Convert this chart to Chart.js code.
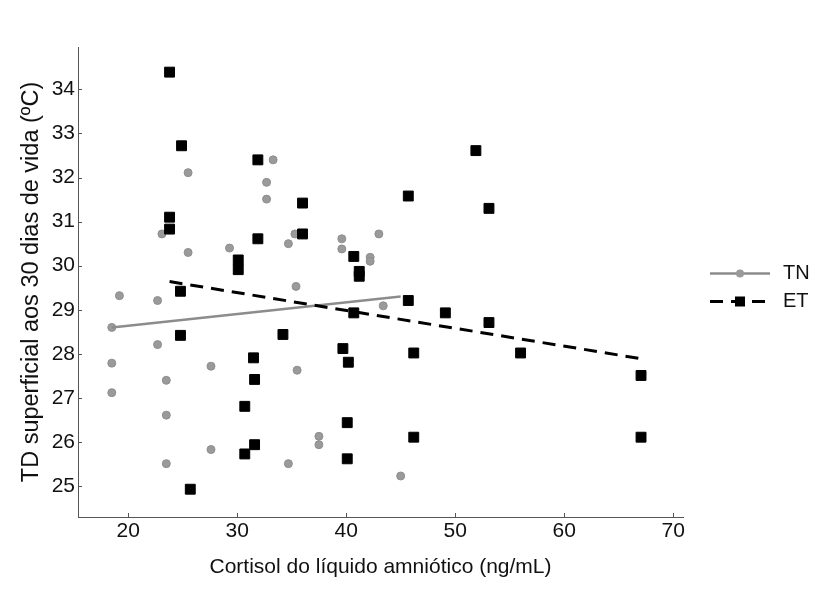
<!DOCTYPE html>
<html>
<head>
<meta charset="utf-8">
<script src="https://cdn.jsdelivr.net/npm/chart.js@4.4.1/dist/chart.umd.min.js"></script>
<style>
    body { margin: 0; background: #fff; }
    canvas { display: block; }
</style>
</head>
<body>
<canvas id="grafico" width="830" height="597"></canvas>
<script>
const cortisolTN = [25.5, 23.1, 25.5, 29.3, 19.2, 22.7, 18.5, 22.7, 18.5, 27.6, 23.5, 18.5, 23.5, 27.6, 23.5,
    33.3, 32.7, 32.7, 35.3, 34.7, 39.6, 39.6, 42.2, 42.2, 43.0, 35.4, 43.4, 35.5, 37.5, 37.5, 34.7, 45.0];
const temperaturaTN = [32.11, 30.72, 30.30, 30.40, 29.32, 29.21, 28.60, 28.21, 27.79, 27.72, 27.40, 27.12, 26.61, 25.83, 25.51,
    32.40, 31.89, 31.51, 30.72, 30.50, 30.61, 30.38, 30.19, 30.10, 30.72, 29.53, 29.09, 27.63, 26.13, 25.94, 25.51, 25.23];

const cortisolET = [23.8, 24.9, 23.8, 23.8, 24.8, 24.8, 25.7, 31.9, 36.0, 31.9, 36.0, 30.1, 30.1, 40.7, 41.2, 41.2,
    40.7, 34.2, 39.7, 40.2, 31.5, 31.6, 30.7, 40.1, 31.6, 30.7, 40.1, 51.9, 45.7, 53.1, 45.7, 49.1, 53.1, 46.2, 56.0,
    46.2, 67.05, 67.05];
const temperaturaET = [34.39, 32.72, 31.10, 30.83, 29.42, 28.42, 24.93, 32.40, 31.42, 30.61, 30.72, 30.13, 29.91, 30.21, 29.87, 29.76,
    28.93, 28.44, 28.12, 27.81, 27.91, 27.42, 26.81, 26.44, 25.94, 25.73, 25.62, 32.61, 31.58, 31.30, 29.21, 28.93, 28.71, 28.02, 28.02,
    26.11, 27.51, 26.11];

// retas de tendencia (pontos extremos)
const retaTNx = [18.5, 45.0];
const retaTNy = [28.60, 29.30];
const retaETx = [23.8, 67.05];
const retaETy = [29.64, 27.89];

const ticksX = [20, 30, 40, 50, 60, 70];
const ticksY = [25, 26, 27, 28, 29, 30, 31, 32, 33, 34];
const grupos = ['TN', 'ET'];

const fonte = "'Liberation Sans', Arial, sans-serif";

function pares(xs, ys) {
    return xs.map((x, i) => ({ x: x, y: ys[i] }));
}

// marcas de escala voltadas para dentro
const marcasInternas = {
    id: 'marcasInternas',
    afterDraw(chart) {
        const ctx = chart.ctx;
        const area = chart.chartArea;
        ctx.save();
        ctx.strokeStyle = '#555';
        ctx.lineWidth = 1;
        chart.scales.x.ticks.forEach(t => {
            const px = Math.round(chart.scales.x.getPixelForValue(t.value)) + 0.5;
            ctx.beginPath();
            ctx.moveTo(px, area.bottom);
            ctx.lineTo(px, area.bottom - 4);
            ctx.stroke();
        });
        chart.scales.y.ticks.forEach(t => {
            const py = Math.round(chart.scales.y.getPixelForValue(t.value)) + 0.5;
            ctx.beginPath();
            ctx.moveTo(area.left, py);
            ctx.lineTo(area.left + 4, py);
            ctx.stroke();
        });
        ctx.restore();
    }
};

// legenda com linha + marcador
const legenda = {
    id: 'legenda',
    afterDraw(chart) {
        const ctx = chart.ctx;
        const area = chart.chartArea;
        const meio = (area.top + area.bottom) / 2;
        const x0 = area.right + 27;
        const x1 = area.right + 87;
        const xm = (x0 + x1) / 2;
        ctx.save();
        grupos.forEach((nome, i) => {
            const y = Math.round(meio - 9 + i * 28) + 0.5;
            ctx.beginPath();
            ctx.moveTo(x0, y);
            ctx.lineTo(x1, y);
            if (i === 0) {
                ctx.strokeStyle = '#8c8c8c';
                ctx.lineWidth = 2.5;
                ctx.setLineDash([]);
            } else {
                ctx.strokeStyle = '#000';
                ctx.lineWidth = 3;
                ctx.setLineDash([13, 8]);
            }
            ctx.stroke();
            ctx.setLineDash([]);
            if (i === 0) {
                ctx.fillStyle = '#9a9a9a';
                ctx.beginPath();
                ctx.arc(xm, y, 4, 0, Math.PI * 2);
                ctx.fill();
            } else {
                ctx.fillStyle = '#000';
                ctx.fillRect(xm - 5, y - 5, 10, 10);
            }
            ctx.fillStyle = '#111';
            ctx.font = '20px ' + fonte;
            ctx.textAlign = 'left';
            ctx.textBaseline = 'middle';
            ctx.fillText(nome, area.right + 100, y);
        });
        ctx.restore();
    }
};

const ctx = document.getElementById('grafico').getContext('2d');

const chart = new Chart(ctx, {
    type: 'scatter',
    data: {
        datasets: [
            {
                label: 'ET reta',
                data: pares(retaETx, retaETy),
                showLine: true,
                borderColor: '#000',
                borderWidth: 3,
                borderDash: [13, 8],
                pointRadius: 0
            },
            {
                label: 'TN reta',
                data: pares(retaTNx, retaTNy),
                showLine: true,
                borderColor: '#8c8c8c',
                borderWidth: 2.5,
                pointRadius: 0
            },
            {
                label: 'ET',
                data: pares(cortisolET, temperaturaET),
                pointStyle: 'rect',
                pointRadius: 7,
                backgroundColor: '#000',
                borderColor: '#000',
                borderWidth: 1
            },
            {
                label: 'TN',
                data: pares(cortisolTN, temperaturaTN),
                pointStyle: 'circle',
                pointRadius: 4,
                backgroundColor: '#9a9a9a',
                borderColor: '#8e8e8e',
                borderWidth: 1
            }
        ]
    },
    options: {
        responsive: false,
        animation: false,
        layout: {
            padding: { top: 47, right: 147, bottom: 0, left: 0 }
        },
        plugins: {
            legend: { display: false },
            tooltip: { enabled: false }
        },
        scales: {
            x: {
                type: 'linear',
                min: 15.4,
                max: 70.9,
                afterBuildTicks: (scale) => { scale.ticks = ticksX.map(v => ({ value: v })); },
                afterFit: (scale) => { scale.height = 80; },
                grid: { display: false, drawTicks: false },
                border: { display: true, color: '#555', width: 1 },
                ticks: {
                    padding: 2,
                    color: '#111',
                    font: { family: fonte, size: 21 }
                },
                title: {
                    display: true,
                    text: 'Cortisol do líquido amniótico (ng/mL)',
                    color: '#111',
                    font: { family: fonte, size: 21 },
                    padding: { top: 0, bottom: 17 }
                }
            },
            y: {
                type: 'linear',
                min: 24.3,
                max: 34.96,
                afterBuildTicks: (scale) => { scale.ticks = ticksY.map(v => ({ value: v })); },
                afterFit: (scale) => { scale.width = 78; },
                grid: { display: false, drawTicks: false },
                border: { display: true, color: '#555', width: 1 },
                ticks: {
                    padding: 3,
                    color: '#111',
                    font: { family: fonte, size: 21 }
                },
                title: {
                    display: true,
                    text: 'TD superficial aos 30 dias de vida (ºC)',
                    color: '#111',
                    font: { family: fonte, size: 23.5 },
                    padding: { top: 17, bottom: 0 }
                }
            }
        }
    },
    plugins: [marcasInternas, legenda]
});
</script>
</body>
</html>
